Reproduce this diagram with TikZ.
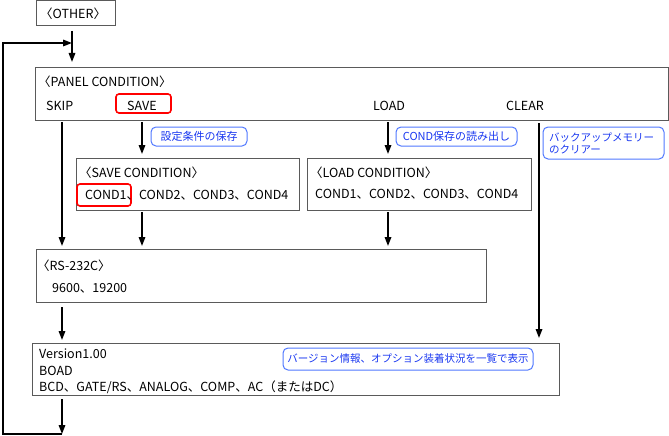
\documentclass[tikz,border=0pt]{standalone}
\usepackage{fontspec}
\setmainfont{Noto Sans CJK JP}
\usetikzlibrary{arrows.meta,calc}
\definecolor{calloutline}{RGB}{80,120,255}
\definecolor{callouttext}{RGB}{25,55,240}
\definecolor{boxgray}{RGB}{90,90,90}
\begin{document}
\begin{tikzpicture}[x=1pt,y=-1pt,
  box/.style={draw=boxgray,line width=1pt,inner sep=0pt,outer sep=0pt,anchor=north west},
  lbl/.style={anchor=base west,inner sep=0pt,font=\fontsize{12.5}{14}\selectfont},
  flow/.style={-{Triangle[length=9pt,width=6.5pt]},line width=1.6pt},
  callout/.style={draw=calloutline,rounded corners=5pt,line width=1pt,text=callouttext,
    font=\fontsize{10.5}{12}\selectfont,inner sep=0pt,outer sep=0pt,anchor=north west},
  hl/.style={draw=red,line width=1.6pt,rounded corners=3pt,inner sep=0pt,outer sep=0pt,anchor=north west}]
\useasboundingbox (0,0) rectangle (669,436);
% boxes
\node[box,minimum width=79pt,minimum height=25pt] (other) at (36,1) {};
\node[box,minimum width=633pt,minimum height=52pt] (panel) at (35,68) {};
\node[box,minimum width=223pt,minimum height=52pt] (savebox) at (76,158) {};
\node[box,minimum width=224pt,minimum height=52pt] (loadbox) at (307,158) {};
\node[box,minimum width=450pt,minimum height=53pt] (rs) at (36,249) {};
\node[box,minimum width=527pt,minimum height=52pt] (version) at (32,343) {};
% highlights
\node[hl,minimum width=55pt,minimum height=19pt] (savehl) at (116,94) {};
\node[hl,minimum width=54pt,minimum height=22pt] (condhl) at (77,184) {};
% texts
\node[lbl] (tother) at (40,19) {〈OTHER〉};
\node[lbl] (tpanel) at (38,86) {〈PANEL CONDITION〉};
\node[lbl] (tskip) at (46,110) {SKIP};
\node[lbl] (tsave) at (127,110) {SAVE};
\node[lbl] (tload) at (373,110) {LOAD};
\node[lbl] (tclear) at (506,110) {CLEAR};
\node[lbl] (tsavet) at (79,177) {〈SAVE CONDITION〉};
\node[lbl] (tsaver) at (85,199) {COND1、COND2、COND3、COND4};
\node[lbl] (tloadt) at (310,177) {〈LOAD CONDITION〉};
\node[lbl] (tloadr) at (315,198) {COND1、COND2、COND3、COND4};
\node[lbl] (trst) at (37,270) {〈RS-232C〉};
\node[lbl] (trsr) at (52,292) {9600、19200};
\node[lbl] (tv1) at (39,358) {Version1.00};
\node[lbl] (tv2) at (39,375) {BOAD};
\node[lbl] (tv3) at (39,391) {BCD、GATE/RS、ANALOG、COMP、AC（またはDC）};
% callouts
\node[callout,minimum width=96pt,minimum height=19pt,font=\fontsize{11}{12}\selectfont] (c1) at (151,127) {設定条件の保存};
\node[callout,minimum width=121pt,minimum height=19pt,font=\fontsize{11}{12}\selectfont] (c2) at (396,127) {COND保存の読み出し};
\node[callout,minimum width=121pt,minimum height=32pt,align=left,text width=109pt,inner xsep=6pt] (c3) at (543,127) {バックアップメモリー\\のクリアー};
\node[callout,minimum width=250pt,minimum height=22pt] (c4) at (283,348) {バージョン情報、オプション装着状況を一覧で表示};
% connector x positions
\coordinate (cx0) at (72,0);
\coordinate (cx1) at (62,0);
\coordinate (cx2) at (142,0);
\coordinate (cx3) at (388,0);
\coordinate (cx4) at (539,0);
\coordinate (botc) at (62,434);
\coordinate (leftb) at (3,434);
\coordinate (leftt) at (3,43);
\coordinate (loopin) at (72,43);
% connectors
\draw[flow] ($(other.south -| cx0)+(0,5)$) -- ($(panel.north -| cx0)+(0,-6)$);
\draw[flow] ($(panel.south -| cx1)+(0,2)$) -- ($(rs.north -| cx1)+(0,-3)$);
\draw[flow] ($(panel.south -| cx2)+(0,2)$) -- ($(savebox.north -| cx2)+(0,-4)$);
\draw[flow] ($(panel.south -| cx3)+(0,2)$) -- ($(loadbox.north -| cx3)+(0,-4)$);
\draw[flow] ($(panel.south -| cx4)+(0,3)$) -- ($(version.north -| cx4)+(0,-5)$);
\draw[flow] ($(savebox.south -| cx2)+(0,2)$) -- ($(rs.north -| cx2)+(0,-3)$);
\draw[flow] ($(loadbox.south -| cx3)+(0,2)$) -- ($(rs.north -| cx3)+(0,-3)$);
\draw[flow] ($(rs.south -| cx1)+(0,5)$) -- ($(version.north -| cx1)+(0,-3)$);
\draw[flow] ($(version.south -| cx1)+(0,4)$) -- (botc);
\draw[flow] (botc) -- (leftb) -- (leftt) -- (loopin);
\end{tikzpicture}
\end{document}
